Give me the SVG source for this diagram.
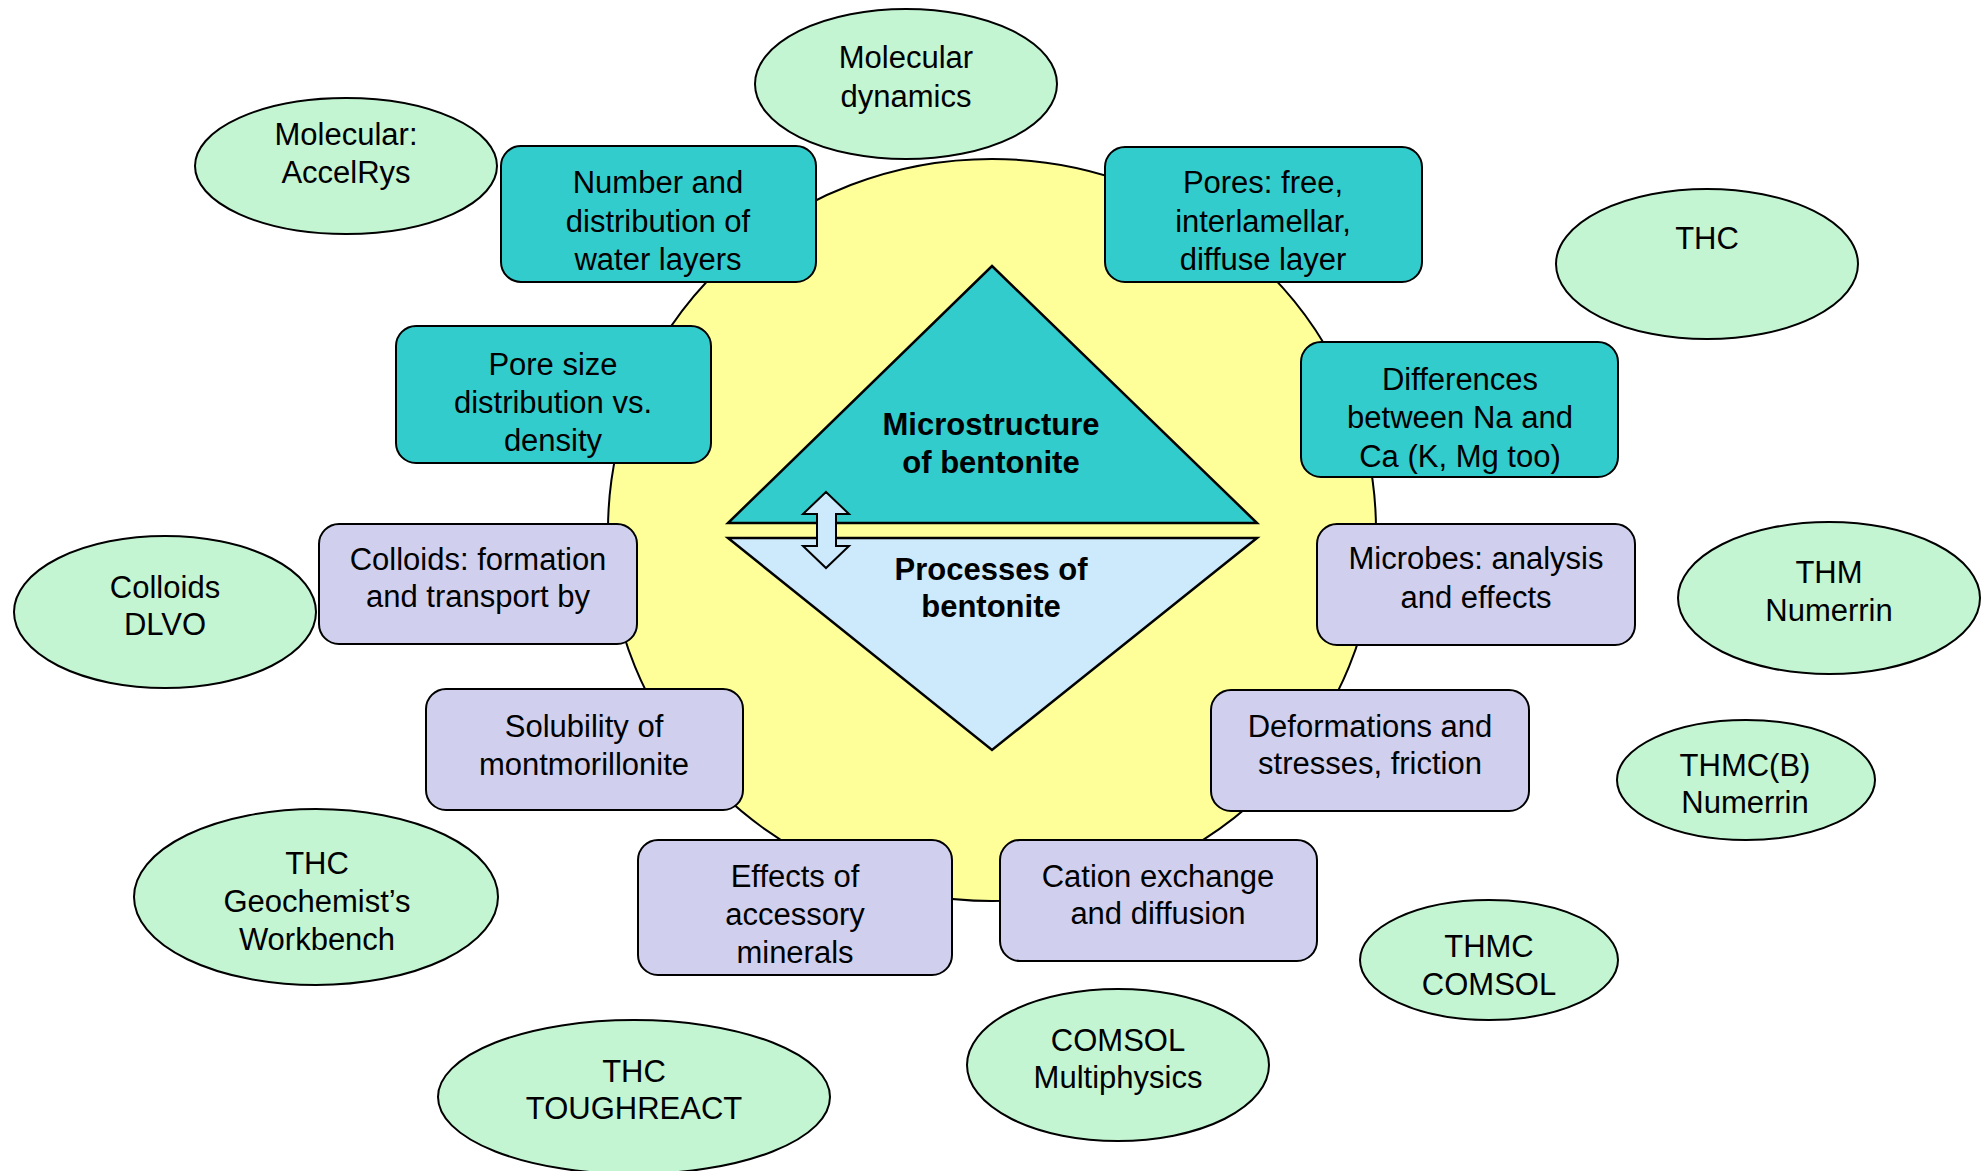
<svg xmlns="http://www.w3.org/2000/svg" width="1984" height="1171" viewBox="0 0 1984 1171">
<style>
text{font-family:"Liberation Sans",Arial,sans-serif;font-size:31px;fill:#000;text-anchor:middle}
.b{font-weight:bold}
.tool{fill:#c4f5d2;stroke:#000;stroke-width:2}
.micro{fill:#33cccc;stroke:#000;stroke-width:2}
.proc{fill:#d0d0ee;stroke:#000;stroke-width:2}
</style>
<rect width="1984" height="1171" fill="#fff"/>
<g id="core">
<ellipse cx="992" cy="530" rx="384" ry="371" fill="#ffff99" stroke="#000" stroke-width="2"/>
<polygon points="992,266 1257,523 728,523" fill="#33cccc" stroke="#000" stroke-width="2.5"/>
<polygon points="728,538 1257,538 992,750" fill="#cceafc" stroke="#000" stroke-width="2.5"/>
<text class="b" x="991" y="435">Microstructure</text>
<text class="b" x="991" y="473">of bentonite</text>
<text class="b" x="991" y="580">Processes of</text>
<text class="b" x="991" y="617">bentonite</text>
</g>
<g id="connectors">
<path d="M826,492 L849,514 L836,514 L836,546 L849,546 L826,568 L803,546 L817,546 L817,514 L803,514 Z" fill="#cceafc" stroke="#000" stroke-width="2"/>
</g>
<g id="n-water"><rect class="micro" x="501" y="146" width="315" height="136" rx="20"/><text x="658" y="193">Number and</text><text x="658" y="232">distribution of</text><text x="658" y="270">water layers</text></g>
<g id="n-pores"><rect class="micro" x="1105" y="147" width="317" height="135" rx="20"/><text x="1263" y="193">Pores: free,</text><text x="1263" y="232">interlamellar,</text><text x="1263" y="270">diffuse layer</text></g>
<g id="n-poresize"><rect class="micro" x="396" y="326" width="315" height="137" rx="20"/><text x="553" y="375">Pore size</text><text x="553" y="413">distribution vs.</text><text x="553" y="451">density</text></g>
<g id="n-diff"><rect class="micro" x="1301" y="342" width="317" height="135" rx="20"/><text x="1460" y="390">Differences</text><text x="1460" y="428">between Na and</text><text x="1460" y="467">Ca (K, Mg too)</text></g>
<g id="n-colloids"><rect class="proc" x="319" y="524" width="318" height="120" rx="20"/><text x="478" y="570">Colloids: formation</text><text x="478" y="607">and transport by</text></g>
<g id="n-microbes"><rect class="proc" x="1317" y="524" width="318" height="121" rx="20"/><text x="1476" y="569">Microbes: analysis</text><text x="1476" y="608">and effects</text></g>
<g id="n-solubility"><rect class="proc" x="426" y="689" width="317" height="121" rx="20"/><text x="584" y="737">Solubility of</text><text x="584" y="775">montmorillonite</text></g>
<g id="n-deform"><rect class="proc" x="1211" y="690" width="318" height="121" rx="20"/><text x="1370" y="737">Deformations and</text><text x="1370" y="774">stresses, friction</text></g>
<g id="n-accessory"><rect class="proc" x="638" y="840" width="314" height="135" rx="20"/><text x="795" y="887">Effects of</text><text x="795" y="925">accessory</text><text x="795" y="963">minerals</text></g>
<g id="n-cation"><rect class="proc" x="1000" y="840" width="317" height="121" rx="20"/><text x="1158" y="887">Cation exchange</text><text x="1158" y="924">and diffusion</text></g>
<g id="t-md"><ellipse class="tool" cx="906" cy="84" rx="151" ry="75"/><text x="906" y="68">Molecular</text><text x="906" y="107">dynamics</text></g>
<g id="t-accelrys"><ellipse class="tool" cx="346" cy="166" rx="151" ry="68"/><text x="346" y="145">Molecular:</text><text x="346" y="183">AccelRys</text></g>
<g id="t-thc1"><ellipse class="tool" cx="1707" cy="264" rx="151" ry="75"/><text x="1707" y="249">THC</text></g>
<g id="t-dlvo"><ellipse class="tool" cx="165" cy="612" rx="151" ry="76"/><text x="165" y="598">Colloids</text><text x="165" y="635">DLVO</text></g>
<g id="t-thm"><ellipse class="tool" cx="1829" cy="598" rx="151" ry="76"/><text x="1829" y="583">THM</text><text x="1829" y="621">Numerrin</text></g>
<g id="t-thmcb"><ellipse class="tool" cx="1746" cy="780" rx="129" ry="60"/><text x="1745" y="776">THMC(B)</text><text x="1745" y="813">Numerrin</text></g>
<g id="t-gwb"><ellipse class="tool" cx="316" cy="897" rx="182" ry="88"/><text x="317" y="874">THC</text><text x="317" y="912">Geochemist’s</text><text x="317" y="950">Workbench</text></g>
<g id="t-thmc"><ellipse class="tool" cx="1489" cy="960" rx="129" ry="60"/><text x="1489" y="957">THMC</text><text x="1489" y="995">COMSOL</text></g>
<g id="t-comsol"><ellipse class="tool" cx="1118" cy="1065" rx="151" ry="76"/><text x="1118" y="1051">COMSOL</text><text x="1118" y="1088">Multiphysics</text></g>
<g id="t-tough"><ellipse class="tool" cx="634" cy="1097" rx="196" ry="77"/><text x="634" y="1082">THC</text><text x="634" y="1119">TOUGHREACT</text></g>
</svg>
